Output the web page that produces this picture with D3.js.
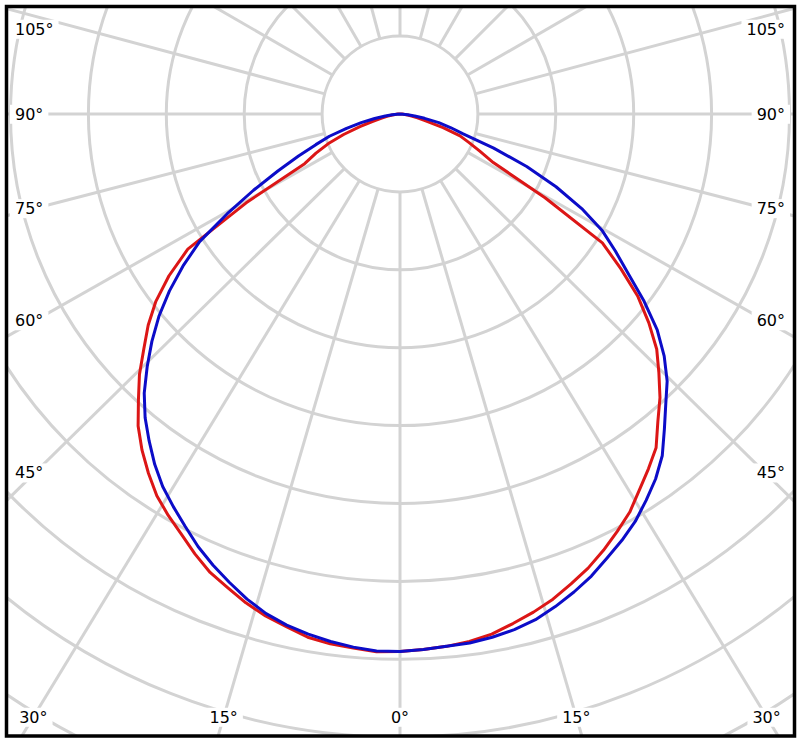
<!DOCTYPE html>
<html>
<head>
  <meta charset="utf-8">
  <title>Polar intensity</title>
  <script src="https://d3js.org/d3.v7.min.js"></script>
  <style>
    html, body { margin: 0; padding: 0; background: #fff; }
    svg { display: block; }
    .lbl { font-family: "DejaVu Sans", Verdana, sans-serif; font-size: 16px; fill: #000; }
  </style>
</head>
<body>
<script>
  // gamma angles (0 = straight down), same for both halves
  var angles = [0, 2.5, 5, 7.5, 10, 12.5, 15, 17.5, 20, 22.5, 25, 27.5, 30, 32.5, 35, 37.5, 40, 42.5, 45,
                47.5, 50, 52.5, 55, 57.5, 60, 62.5, 65, 67.5, 70, 72.5, 75, 77.5, 80, 82.5, 85, 87.5, 90];

  // intensities (one ring = 100)
  var redRight  = [690, 688, 686, 683, 678, 670, 662, 653, 642, 631, 618, 604, 590, 572, 556, 540, 515, 494, 470,
                   447, 417, 385, 346, 308, 215, 135, 113, 96, 82, 58, 35, 23, 15, 10, 6, 3, 0];
  var redLeft   = [690, 691, 688, 686, 682, 674, 667, 658, 647, 637, 623, 608, 595, 581, 563, 544, 523, 497, 473,
                   446, 422, 395, 362, 323, 228, 138, 119, 100, 77, 54, 36, 24, 17, 10, 6, 3, 0];
  var blueRight = [690, 688, 686, 685, 682, 678, 672, 663, 653, 642, 629, 617, 604, 588, 572, 553, 528, 505, 485,
                   460, 431, 395, 358, 328, 300, 263, 221, 176, 128, 85, 67, 51, 32, 19, 10, 4, 0];
  var blueLeft  = [690, 690, 687, 683, 678, 672, 664, 653, 640, 627, 613, 597, 582, 567, 549, 529, 509, 486, 459,
                   432, 404, 373, 340, 305, 256, 212, 173, 141, 115, 95, 71, 51, 33, 19, 10, 4, 0];

  var rings = [100, 200, 300, 400, 500, 600, 700, 800, 900];
  // spoke directions as drawn in the picture (signed, 0 = down)
  var spokes = [-165, -150, -135, -120, -105, -90, -75.5, -60.5, -45.5, -31.3, -16.3, 0,
                16.3, 31.3, 45.5, 60.5, 75.5, 90, 105, 120, 135, 150, 165, 180];
  var tickText  = [0, 15, 30, 45, 60, 75, 90, 105];
  var tickSpoke = [0, 16.3, 31.3, 45.5, 60.5, 75.5, 90, 105];

  var width = 800, height = 743;
  var cx = 400, cy = 114;
  var fx = 6.5, fy = 6.5, fw = 788, fh = 729.5;

  var r = d3.scaleLinear().domain([0, 100]).range([0, 77.9]);
  var a = d3.scaleLinear().domain([0, 180]).range([Math.PI, 0]);   // gamma -> d3 radial angle

  var svg = d3.select("body").append("svg")
    .attr("width", width)
    .attr("height", height);

  svg.append("clipPath").attr("id", "frameclip")
    .append("rect")
    .attr("x", fx).attr("y", fy).attr("width", fw).attr("height", fh);

  var g = svg.append("g")
    .attr("clip-path", "url(#frameclip)")
    .append("g")
    .attr("transform", "translate(" + cx + "," + cy + ")");

  // rings
  g.selectAll("circle.ring").data(rings).enter().append("circle")
    .attr("class", "ring")
    .attr("r", function (d) { return r(d); })
    .style("fill", "none")
    .style("stroke", "#d3d3d3")
    .style("stroke-width", 3);

  // spokes from first ring outward
  g.selectAll("line.spoke").data(spokes).enter().append("line")
    .attr("class", "spoke")
    .attr("x1", function (d) { return d3.pointRadial(a(d), r(100))[0]; })
    .attr("y1", function (d) { return d3.pointRadial(a(d), r(100))[1]; })
    .attr("x2", function (d) { return d3.pointRadial(a(d), r(1200))[0]; })
    .attr("y2", function (d) { return d3.pointRadial(a(d), r(1200))[1]; })
    .style("stroke", "#d3d3d3")
    .style("stroke-width", 3);

  function series(left, right) {
    var pts = [];
    for (var i = angles.length - 1; i > 0; i--) pts.push([-angles[i], left[i]]);
    for (var j = 0; j < angles.length; j++) pts.push([angles[j], right[j]]);
    return pts;
  }

  var line = d3.lineRadial()
    .angle(function (d) { return a(d[0]); })
    .radius(function (d) { return r(d[1]); })
    .curve(d3.curveLinear);

  g.append("path")
    .attr("d", line(series(redLeft, redRight)))
    .style("fill", "none")
    .style("stroke", "#dc1616")
    .style("stroke-width", 3)
    .style("stroke-linejoin", "round");

  g.append("path")
    .attr("d", line(series(blueLeft, blueRight)))
    .style("fill", "none")
    .style("stroke", "#0c0cc8")
    .style("stroke-width", 3)
    .style("stroke-linejoin", "round");

  // labels with white boxes over the grid
  var labels = [];
  tickText.forEach(function (t, i) {
    var rad = tickSpoke[i] * Math.PI / 180;
    if (t >= 45) {
      var y = Math.max(cy + (cx - 35) / Math.tan(rad), 29);
      labels.push({ text: t + "°", x: 15, y: y, anchor: "start" });
      labels.push({ text: t + "°", x: 785, y: y, anchor: "end" });
    } else {
      var dx = (717 - cy) * Math.tan(rad);
      labels.push({ text: t + "°", x: cx + dx, y: 717, anchor: "middle" });
      if (t > 0) labels.push({ text: t + "°", x: cx - dx, y: 717, anchor: "middle" });
    }
  });

  var lg = svg.append("g");
  labels.forEach(function (d) {
    var box = lg.append("rect").style("fill", "#fff");
    var txt = lg.append("text")
      .attr("class", "lbl")
      .attr("x", d.x)
      .attr("y", d.y)
      .attr("dy", "0.36em")
      .attr("text-anchor", d.anchor)
      .text(d.text);
    var bb = txt.node().getBBox();
    box.attr("x", bb.x - 5).attr("y", bb.y).attr("width", bb.width + 10).attr("height", bb.height);
  });

  // frame
  svg.append("rect")
    .attr("x", fx).attr("y", fy).attr("width", fw).attr("height", fh)
    .style("fill", "none")
    .style("stroke", "#000")
    .style("stroke-width", 3.5);
</script>
</body>
</html>
